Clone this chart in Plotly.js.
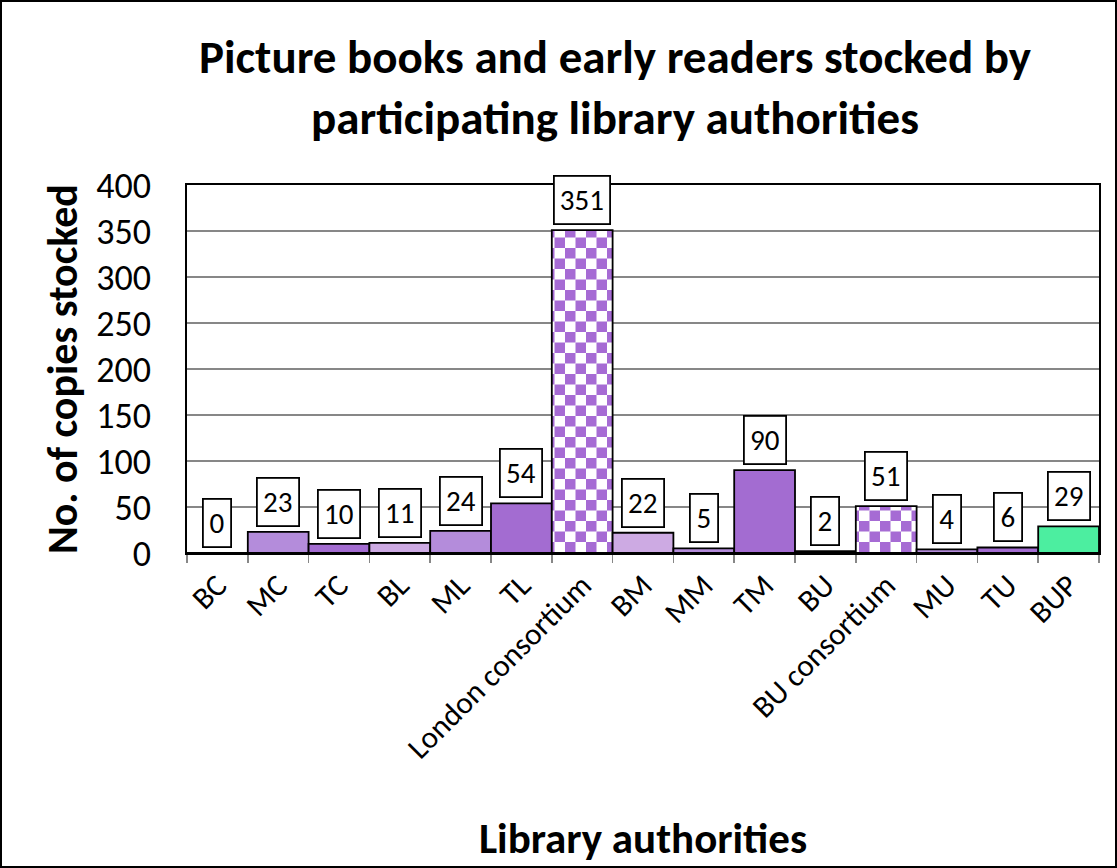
<!DOCTYPE html>
<html><head><meta charset="utf-8">
<script src="https://cdn.plot.ly/plotly-3.0.1.min.js"></script>
<style>html,body{margin:0;padding:0;background:#fff}#chart{width:1117px;height:868px}</style>
</head><body><div id="chart"></div>
<script>
const categories = ['BC','MC','TC','BL','ML','TL','London consortium','BM','MM','TM','BU','BU consortium','MU','TU','BUP'];
const copies = [0,23,10,11,24,54,351,22,5,90,2,51,4,6,29];
const yTickValues = [0,50,100,150,200,250,300,350,400];
const chartTitle = 'Picture books and early readers stocked by<br>participating library authorities';
const xTitle = 'Library authorities';
const yTitle = 'No. of copies stocked';

const LIGHT='#CDAAE3', MEDIUM='#B48CDB', DARK='#A36CD1', CHECK='#A66BD4', GREEN='#4CEEA0';
function isChecker(c){ return c.indexOf('consortium') >= 0; }
function colorFor(c){
  if (isChecker(c)) return '#ffffff';
  if (c === 'BUP') return GREEN;
  if (c[0] === 'B') return LIGHT;
  if (c[0] === 'M') return MEDIUM;
  return DARK;
}

const W=1117, H=868, L=187, R=18, T=185, B=315;
const pw = W-L-R, ph = H-T-B;
const FONT = 'Carlito, Lato, "Liberation Sans", sans-serif';

const trace = {
  type:'bar', x:categories, y:copies,
  marker:{
    color: categories.map(colorFor),
    line:{color:'#000', width:1.8},
    pattern:{
      shape: categories.map(c => isChecker(c) ? '.' : ''),
      fgcolor: CHECK, bgcolor:'#ffffff', size:21, solidity:0.5, fillmode:'replace'
    }
  },
  hoverinfo:'x+y'
};

const annotations = categories.map((c,i) => {
  const t = String(copies[i]);
  return {
    x:c, y:copies[i], xref:'x', yref:'y', text:t,
    yanchor:'bottom', yshift:5, showarrow:false,
    width: 14*t.length + 2, align:'center',
    bgcolor:'#fff', bordercolor:'#000', borderwidth:1.8, borderpad:5,
    font:{size:29, color:'#000', family:FONT}
  };
});

const layout = {
  width:W, height:H,
  margin:{l:L, r:R, t:T, b:B, pad:0},
  paper_bgcolor:'#fff', plot_bgcolor:'#fff',
  font:{family:FONT, color:'#000'},
  bargap:0,
  showlegend:false,
  title:{text:chartTitle, x:(615-L)/pw, xref:'paper', xanchor:'center', y:1-73/H, yref:'container', yanchor:'middle',
         font:{size:47, weight:'bold', family:FONT, color:'#000'}},
  xaxis:{type:'category', tickson:'boundaries', ticks:'outside', ticklen:8, tickcolor:'#878787', tickwidth:1.5,
         tickangle:-45, tickfont:{size:31}, showline:true, mirror:true, linecolor:'#000', linewidth:1.8,
         showgrid:false, automargin:false,
         title:{text:xTitle, font:{size:43, weight:'bold'}, standoff:58}},
  yaxis:{range:[0,400], tickvals:yTickValues, ticks:'', tickfont:{size:36}, ticklabelstandoff:27,
         showgrid:true, gridcolor:'#878787', gridwidth:1.5, zeroline:false,
         showline:true, mirror:true, linecolor:'#000', linewidth:1.8, automargin:false,
         title:{text:yTitle, font:{size:42, weight:'bold'}, standoff:5}},
  annotations:annotations,
  shapes:[{type:'rect', xref:'paper', yref:'paper', layer:'above',
           x0:(1-L)/pw, x1:(W-1-L)/pw, y0:-(B-1)/ph, y1:1+(T-1)/ph,
           line:{color:'#000', width:2}, fillcolor:'rgba(0,0,0,0)'}]
};

const gd = document.getElementById('chart');
Plotly.newPlot(gd, [trace], layout, {displayModeBar:false, staticPlot:true}).then(() => {
  const NS = 'http://www.w3.org/2000/svg';
  gd.querySelectorAll('pattern').forEach(p => {
    if (!p.querySelector('circle')) return;
    const s = 21, h = s/2;
    p.setAttribute('width', s); p.setAttribute('height', s);
    while (p.firstChild) p.removeChild(p.firstChild);
    const mk = (x,y,w,hh,f) => { const r=document.createElementNS(NS,'rect');
      r.setAttribute('x',x); r.setAttribute('y',y); r.setAttribute('width',w); r.setAttribute('height',hh);
      r.setAttribute('fill',f); p.appendChild(r); };
    mk(0,0,s,s,'#ffffff'); mk(0,0,h,h,CHECK); mk(h,h,h,h,CHECK);
  });
});
</script></body></html>
